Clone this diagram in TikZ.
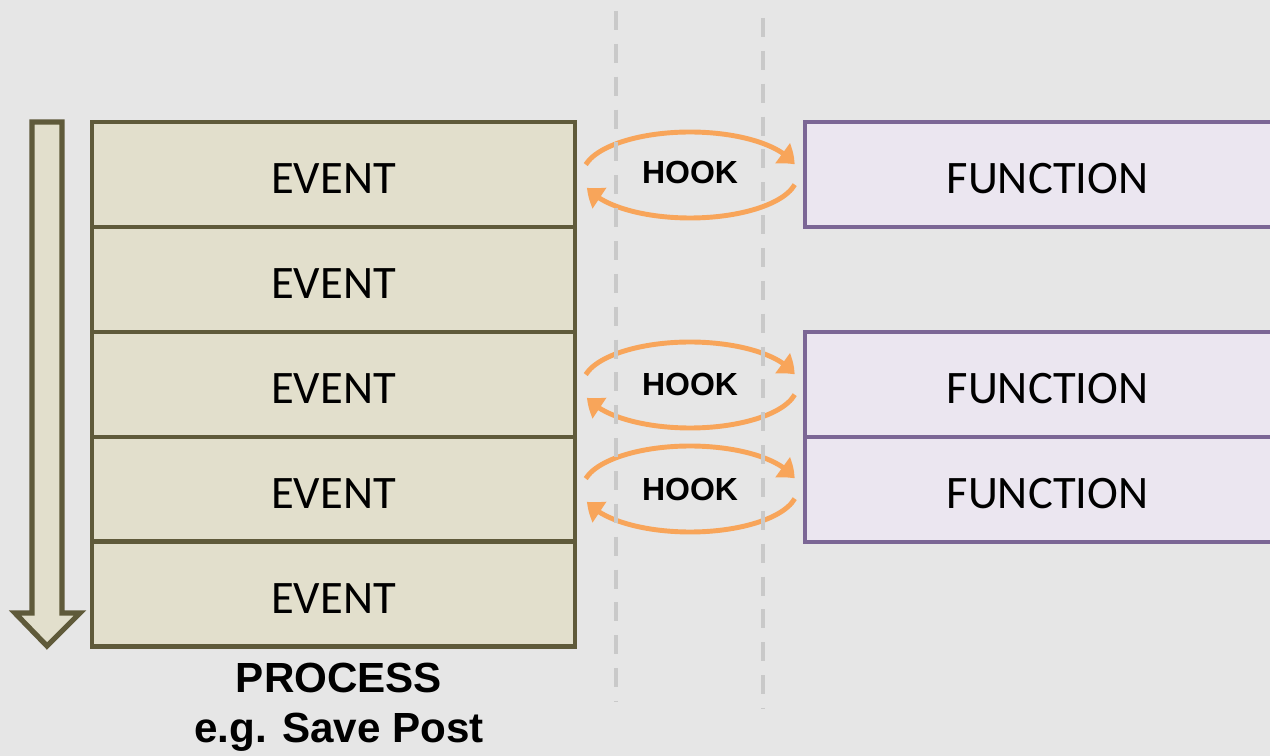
\documentclass[tikz,border=0pt]{standalone}
\usepackage{fontspec}
\setmainfont{Carlito}
\setsansfont{Liberation Sans}[BoldFont={Liberation Sans Bold}]
\usetikzlibrary{arrows.meta,bending}
\definecolor{bgcol}{HTML}{E6E6E6}
\definecolor{olivedark}{HTML}{5F5A3A}
\definecolor{olivefill}{HTML}{E2DFCC}
\definecolor{purpdark}{HTML}{7B6695}
\definecolor{purpfill}{HTML}{EBE6F0}
\definecolor{hookorange}{HTML}{F8A55A}
\definecolor{dashgray}{HTML}{C9C9C9}
\begin{document}
\begin{tikzpicture}[x=0.02cm,y=0.02cm,
  eventbox/.style={draw=olivedark, fill=olivefill, line width=2.7pt,
    minimum width=9.66cm, minimum height=2.1cm, inner sep=0pt,
    font=\fontsize{26.5}{30}\selectfont, text height=22pt, text depth=0pt},
  funcbox/.style={draw=purpdark, fill=purpfill, line width=2.6pt,
    minimum width=9.7cm, minimum height=2.1cm, inner sep=0pt,
    font=\fontsize{26.5}{30}\selectfont, text height=22pt, text depth=0pt},
  hooklabel/.style={inner sep=0pt, anchor=base, font=\sffamily\bfseries\fontsize{18.2}{21}\selectfont},
  hookarc/.style={draw=hookorange, line width=2.8pt,
    -{Triangle[width=14pt,length=9pt,bend]}},
  flowarrow/.style={draw=olivedark, fill=olivefill, line width=3pt, line join=miter},
  sepline/.style={draw=dashgray, line width=2.8pt, dash pattern=on 10.8pt off 7.9pt},
  processlabel/.style={align=center, inner sep=0pt,
    font=\sffamily\bfseries\fontsize{24}{28.4}\selectfont}
]
\fill[bgcol] (0,0) rectangle (1270,-756);
\useasboundingbox (0,0) rectangle (1270,-756);
\clip (0,0) rectangle (1270,-756);

% flow arrow
\draw[flowarrow] (32,-122) -- (62,-122) -- (62,-613) -- (80,-613) -- (47,-646)
  -- (15,-613) -- (32,-613) -- cycle;

% events
\node[eventbox] (e1) at (333.5,-174.5) {EVENT};
\node[eventbox] (e2) at (333.5,-279.5) {EVENT};
\node[eventbox] (e3) at (333.5,-384.5) {EVENT};
\node[eventbox] (e4) at (333.5,-489.5) {EVENT};
\node[eventbox] (e5) at (333.5,-594) {EVENT};

% functions
\node[funcbox] (f1) at (1047.5,-174.5) {FUNCTION};
\node[funcbox] (f3) at (1047.5,-384.5) {FUNCTION};
\node[funcbox] (f4) at (1047.5,-489.5) {FUNCTION};

% hooks
\node[hooklabel] (h1) at (690,-184) {HOOK};
\node[hooklabel] (h3) at (690,-396) {HOOK};
\node[hooklabel] (h4) at (690,-500) {HOOK};
\coordinate (hc1) at (690,-175);
\coordinate (hc3) at (690,-385);
\coordinate (hc4) at (690,-489);
\foreach \c in {hc1,hc3,hc4}{
  \draw[hookarc] ([shift={(166:2.15cm and 0.86cm)}]\c)
    arc[start angle=166, end angle=14, x radius=2.15cm, y radius=0.86cm];
  \draw[hookarc] ([shift={(-13:2.15cm and 0.86cm)}]\c)
    arc[start angle=-13, end angle=-163, x radius=2.15cm, y radius=0.86cm];
}

% dashed separators
\coordinate (s1t) at (616,-11);
\coordinate (s1b) at (616,-702);
\coordinate (s2t) at (763,-18);
\coordinate (s2b) at (763,-708);
\draw[sepline] (s1t) -- (s1b);
\draw[sepline] (s2t) -- (s2b);

% process label
\node[processlabel] (process) at (339,-707) {PROCESS\\e.g. Save Post};
\end{tikzpicture}
\end{document}
